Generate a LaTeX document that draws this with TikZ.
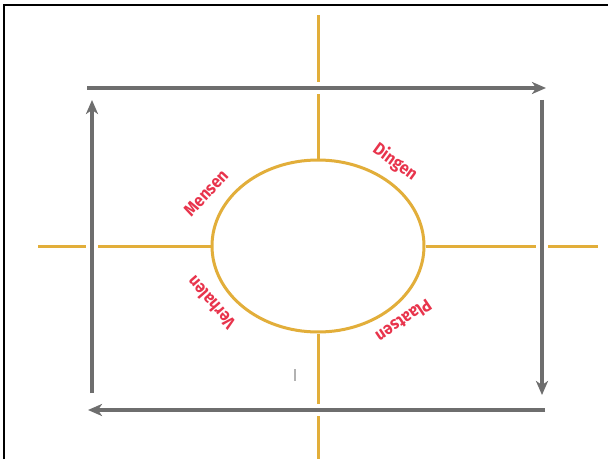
\documentclass[tikz,border=0pt]{standalone}
\usepackage{fontspec}
\setmainfont{Fira Sans}
\newfontfamily\smalfont[FakeStretch=0.9]{Fira Sans}
\usetikzlibrary{arrows.meta,shapes.geometric}
\definecolor{geel}{RGB}{226,174,58}
\definecolor{grijs}{RGB}{110,110,110}
\definecolor{rood}{RGB}{232,52,76}
\tikzset{
  as/.style={geel,line width=3pt},
  pijl/.style={grijs,line width=4pt,->,preaction={draw=white,line width=12pt,-}},
  woord/.style={rood,font=\smalfont\fontsize{17.5}{19}\selectfont\bfseries,inner sep=0pt}
}
\begin{document}
\begin{tikzpicture}[x=1pt,y=1pt,>={Stealth[length=14pt,width=12pt,inset=4pt]}]
\useasboundingbox(0,0)rectangle(608,459);
\fill[white](0,0)rectangle(608,459);
\draw[line width=2.5pt](4,0)--(4,454)--(608,454);
% kruis en cirkel
\node[ellipse,as,draw,minimum width=212pt,minimum height=172pt,inner sep=0pt](hub)at(318,213){};
\coordinate(boven)at(318,444);
\coordinate(onder)at(318,0);
\coordinate(links)at(38,213);
\coordinate(rechts)at(598,213);
\draw[as](hub.north)--(boven);
\draw[as](hub.south)--(onder);
\draw[as](hub.west)--(links);
\draw[as](hub.east)--(rechts);
% kringloop
\coordinate(a1)at(87,371);\coordinate(a2)at(546,371);
\coordinate(b1)at(542,359);\coordinate(b2)at(542,64);
\coordinate(c1)at(545,49);\coordinate(c2)at(88,49);
\coordinate(d1)at(92,66);\coordinate(d2)at(92,359);
\draw[pijl](a1)--(a2);
\draw[pijl](b1)--(b2);
\draw[pijl](c1)--(c2);
\draw[pijl](d1)--(d2);
\node[woord,rotate=47](mensen)at(206,266){Mensen};
\node[woord,rotate=-36](dingen)at(395,297){Dingen};
\node[woord,rotate=131](verhalen)at(211,156){Verhalen};
\node[woord,rotate=214](plaatsen)at(404,138){Plaatsen};
\coordinate(t1)at(295,90);\coordinate(t2)at(295,78);
\draw[gray!60,line width=1.5pt](t1)--(t2);
\end{tikzpicture}
\end{document}
